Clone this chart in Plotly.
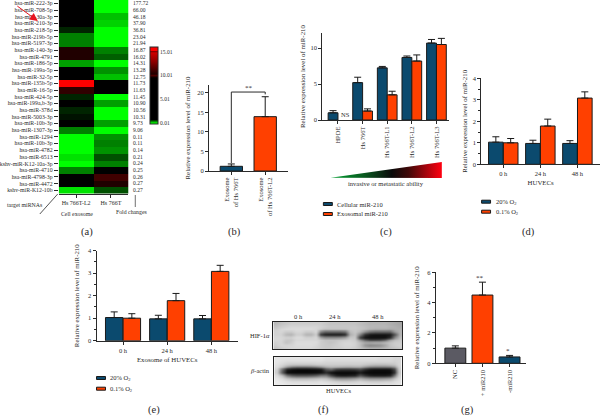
import plotly.graph_objects as go

W, H = 600, 416
SERIF = "Liberation Serif"
INK = "#2a2a2a"
BLUE = "#0b4a6e"
ORANGE = "#ff4000"
GREY = "#5b5a63"

# (a) heat map
mirnas = ["hsa-miR-222-3p", "hsa-miR-708-5p", "hsa-miR-30a-3p", "hsa-miR-210-3p", "hsa-miR-218-5p",
          "hsa-miR-219b-5p", "hsa-miR-5197-3p", "hsa-miR-140-3p", "hsa-miR-4791", "hsa-miR-186-5p",
          "hsa-miR-199a-5p", "hsa-miR-32-5p", "hsa-miR-135b-5p", "hsa-miR-16-5p", "hsa-miR-424-5p",
          "hsa-miR-199a,b-3p", "hsa-miR-378d", "hsa-miR-5003-3p", "hsa-miR-10b-3p", "hsa-miR-1307-3p",
          "hsa-miR-1294", "hsa-miR-10b-3p", "hsa-miR-4782", "hsa-miR-6513", "kshv-miR-K12-10a-3p",
          "hsa-miR-4710", "hsa-miR-4798-3p", "hsa-miR-4472", "kshv-miR-K12-10b"]
fold_changes = ["177.72", "66.00", "46.18", "37.90", "36.81", "23.04", "21.94", "16.87", "16.02", "14.31",
                "13.28", "12.75", "11.73", "11.63", "11.45", "10.90", "10.56", "10.31", "9.73", "9.06",
                "0.11", "0.11", "0.14", "0.21", "0.24", "0.25", "0.26", "0.27", "0.27"]
heat_l2 = [3, 3, 9.0, 3, 0.6, 0.35, 0.35, 9.7, 9.7, 0.26, 3, 3, 15.8, 10.2, 0.6, 3, 0.6, 0.65, 3, 0.35,
           0, 0, 0, 0.08, 0, 0.35, 3, 3, 0.08]
heat_parent = [0, 0, 0.17, 0.12, 0, 0, 0, 0.35, 0.44, 0, 0.3, 0.17, 3, 3, 0, 0.26, 0, 0, 0.26, 0,
               0.3, 0.35, 0.3, 0.48, 0.35, 3, 10.1, 9.7, 0.48]
heat_columns = ["Hs 766T-L2", "Hs 766T"]
heat_stops = [(-0.2, "#00ff00"), (0, "#00ff00"), (0.7, "#000000"), (9.5, "#000000"), (10, "#500000"),
              (10.3, "#200000"), (13, "#900000"), (14.8, "#d00000"), (15, "#600000"), (15.2, "#ff0000"),
              (16, "#ff0000")]

# (b)
b_labels = ["Exosome<br>of Hs 766T", "Exosome<br>of Hs 766T-L2"]
b_values = [1.2, 13.9]
b_tops = [1.8, 19.0]

# (c)
c_labels = ["HPDE", "Hs 766T", "Hs 766T-L1", "Hs 766T-L2", "Hs 766T-L3"]
c_cell = [1.0, 5.2, 7.25, 8.7, 10.7]
c_cell_tops = [1.3, 5.95, 7.45, 8.9, 11.2]
c_exo = [None, 1.25, 3.5, 8.2, 10.5]
c_exo_tops = [None, 1.55, 4.0, 9.05, 11.35]

# (d)
time_labels = ["0 h", "24 h", "48 h"]
d_normoxia = [1.03, 0.97, 0.97]
d_normoxia_tops = [1.28, 1.12, 1.10]
d_hypoxia = [1.0, 1.78, 3.08]
d_hypoxia_tops = [1.2, 2.1, 3.37]

# (e)
e_normoxia = [1.03, 0.97, 0.97]
e_normoxia_tops = [1.28, 1.13, 1.12]
e_hypoxia = [1.0, 1.78, 3.08]
e_hypoxia_tops = [1.2, 2.1, 3.35]

# (g)
g_labels = ["NC", "+ miR210", "-miR210"]
g_values = [1.0, 4.5, 0.42]
g_tops = [1.15, 5.35, 0.52]

# (f) blots, grey levels
hif_blot = [
    [185,195,200,205,205,205,205,205,205,205,200,195,195,195,195,195,195,190,185,180,180,180,180,175,170,165],
    [195,205,210,215,215,215,215,215,215,210,205,200,200,200,200,200,200,195,190,185,185,185,185,180,175,170],
    [205,215,220,220,220,220,220,220,215,205,195,195,195,195,195,200,200,195,190,180,175,175,175,170,175,175],
    [210,215,205,205,215,215,205,205,215,140,110,110,110,110,120,190,200,185,150,120,110,110,110,110,160,180],
    [210,210,185,180,205,205,180,180,205,60,30,25,25,25,40,175,195,130,50,25,20,20,20,25,90,180],
    [215,215,210,210,220,220,210,210,215,165,140,140,140,145,160,200,200,60,20,15,15,15,15,40,140,190],
    [215,215,200,200,215,215,215,215,215,205,195,195,195,200,205,210,205,150,100,70,70,75,100,160,190,200],
    [210,215,195,205,220,220,220,220,220,205,200,195,200,210,215,215,210,190,170,170,175,175,185,195,205,205],
    [205,215,215,215,220,220,220,220,215,205,200,200,205,210,215,215,210,190,150,135,140,145,165,195,205,210],
    [195,205,210,215,215,215,215,215,210,205,200,200,205,205,210,210,205,195,185,180,180,180,185,190,195,200],
]
actin_blot = [
    [230,230,230,230,230,230,230,230,230,230,225,225,225,225,225,225,225,225,225,225,225,220,220,220,215,215],
    [230,225,220,220,220,220,220,220,220,220,215,215,215,215,215,215,215,215,215,215,215,215,215,215,210,215],
    [225,215,205,200,200,200,200,200,205,205,205,205,205,205,205,205,205,205,200,195,190,190,190,195,200,215],
    [220,195,150,120,110,110,110,115,125,145,170,180,175,170,165,165,170,170,145,125,120,120,120,125,150,210],
    [210,110,30,15,10,10,10,12,15,20,80,100,60,50,50,50,55,70,40,20,15,15,15,20,70,205],
    [205,90,12,8,8,8,8,8,10,15,40,15,8,8,8,8,10,25,10,8,8,8,8,10,50,200],
    [220,190,120,90,80,80,80,85,95,120,120,70,35,25,25,30,35,80,50,30,25,25,25,35,120,210],
    [230,220,200,190,185,185,185,190,195,200,195,175,150,145,145,150,160,175,160,150,150,150,155,165,195,220],
    [235,230,225,220,220,220,220,220,220,225,220,215,210,205,205,205,210,215,210,205,205,205,210,210,220,225],
    [235,235,230,230,230,230,230,230,230,230,230,225,225,225,225,225,225,225,225,225,225,225,225,225,225,230],
]


def dom_x(a, b):
    return [a / W, b / W]


def dom_y(top, bottom):
    return [1 - bottom / H, 1 - top / H]


fig = go.Figure()
annotations = []
shapes = []


def text(x, y, s, size=6.5, anchor="center", color=INK, angle=0):
    annotations.append(dict(x=x / W, y=1 - y / H, xref="paper", yref="paper", text=s, showarrow=False,
                            xanchor=anchor, yanchor="middle", textangle=angle,
                            font=dict(family=SERIF, size=size, color=color)))


def add_bar(ax, xs, ys, tops, color, name, width):
    plus = [None if t is None else t - v for t, v in zip(tops, ys)]
    minus = [0 if v is not None else None for v in ys]
    fig.add_trace(go.Bar(x=xs, y=ys, name=name, xaxis="x" + ax, yaxis="y" + ax, width=width,
                         marker=dict(color=color, line=dict(color="#1a1a1a", width=1)),
                         error_y=dict(type="data", symmetric=False, array=plus, arrayminus=minus,
                                      color="#1a1a1a", thickness=1, width=3.5)))


def style_axes(ax, xd, yd, xr, yr, tickvals, xtick, title, xangle=0, dtick_minor=None, standoff=2, xtitle=None, xsize=6.5):
    xa = dict(domain=xd, range=xr, anchor="y" + ax, tickmode="array", tickvals=list(range(len(xtick))),
              ticktext=xtick, tickangle=xangle, ticks="outside", ticklen=3, tickwidth=1, tickcolor=INK,
              showline=True, linecolor=INK, linewidth=1, showgrid=False, zeroline=False,
              tickfont=dict(family=SERIF, size=xsize, color=INK), automargin=False)
    if xtitle:
        xa["title"] = dict(text=xtitle, font=dict(family=SERIF, size=6.8, color=INK), standoff=4)
    ya = dict(domain=yd, range=yr, anchor="x" + ax, tickmode="array", tickvals=tickvals,
              ticks="outside", ticklen=3, tickwidth=1, tickcolor=INK, showline=True, linecolor=INK, linewidth=1,
              showgrid=False, zeroline=False, tickfont=dict(family=SERIF, size=6.5, color=INK), automargin=False,
              title=dict(text=title, font=dict(family=SERIF, size=6.9, color=INK), standoff=standoff))
    if dtick_minor:
        ya["minor"] = dict(dtick=dtick_minor, ticks="outside", ticklen=2, tickwidth=1, tickcolor=INK, showgrid=False)
    fig.update_layout({"xaxis" + ax: xa, "yaxis" + ax: ya})


def legend_entry(x, y, color, label):
    shapes.append(dict(type="rect", xref="paper", yref="paper", x0=x / W, x1=(x + 9) / W, y0=1 - (y + 1.5) / H,
                       y1=1 - (y - 1.5) / H, fillcolor=color, line=dict(color="#1a1a1a", width=1)))
    text(x + 12, y, label, size=6.5, anchor="left")


TITLE = "Relative expression level of miR-210"

# ---- (a)
lo, hi = -0.2, 16
colorscale = [[(z - lo) / (hi - lo), c] for z, c in heat_stops]
fig.add_trace(go.Heatmap(z=[[a, b] for a, b in zip(heat_l2, heat_parent)], x=[0, 1], y=list(range(len(mirnas))),
                         xaxis="x", yaxis="y", zmin=lo, zmax=hi, colorscale=colorscale, hoverinfo="skip",
                         colorbar=dict(x=148 / W, xanchor="left", y=1 - 85.5 / H, yanchor="middle",
                                       lenmode="pixels", len=77, thicknessmode="pixels", thickness=8, xpad=0, ypad=0,
                                       outlinewidth=1, outlinecolor=INK, tickmode="array",
                                       tickvals=[0.01, 5.01, 10.01, 15.01], ticktext=["0.01", "5.01", "10.01", "15.01"],
                                       ticks="", tickfont=dict(family=SERIF, size=5.5, color=INK))))
fig.update_layout(
    xaxis=dict(domain=dom_x(56, 126), range=[-0.5, 1.5], tickmode="array", tickvals=[0, 1], ticktext=heat_columns,
               ticks="outside", ticklen=3, tickcolor=INK, showgrid=False, zeroline=False, showline=True,
               linecolor=INK, linewidth=1, anchor="y", tickfont=dict(family=SERIF, size=6, color=INK)),
    yaxis=dict(domain=dom_y(0, 193.5), range=[len(mirnas) - 0.5, -0.5], tickmode="array",
               tickvals=list(range(len(mirnas))), ticktext=mirnas, ticks="outside", ticklen=4, tickcolor=INK,
               showgrid=False, zeroline=False, anchor="x", tickfont=dict(family=SERIF, size=5.8, color=INK)),
)
for i, fc in enumerate(fold_changes):
    text(128.5, (i + 0.5) * 193.5 / len(fold_changes), fc, size=5.5, anchor="left")
text(22, 205, "target miRNAs", size=5.8)
text(56, 214, "Cell exosome", size=5.8, anchor="left")
text(129, 212, "Fold changes", size=5.8)
text(84, 232, "(a)", size=10.5)
shapes.append(dict(type="line", xref="paper", yref="paper", x0=55 / W, x1=37 / W, y0=1 - 194 / H, y1=1 - 214 / H,
                   line=dict(color=INK, width=0.8)))
shapes.append(dict(type="line", xref="paper", yref="paper", x0=133 / W, x1=133 / W, y0=1 - 195 / H, y1=1 - 207 / H,
                   line=dict(color="#888888", width=1.2)))
annotations.append(dict(x=35 / W, y=1 - 21 / H, xref="paper", yref="paper", ax=-22, ay=-16, axref="pixel",
                        ayref="pixel", text="", showarrow=True, arrowcolor="#e8141e", arrowhead=2, arrowsize=1.6,
                        arrowwidth=1))

# ---- (b)
style_axes("2", dom_x(207, 286), dom_y(85, 171), [-0.66, 1.66], [0, 22], [0, 5, 10, 15, 20], b_labels, TITLE, xangle=-90,
           standoff=5)
for i in range(2):
    add_bar("2", [i], [b_values[i]], [b_tops[i]], [BLUE, ORANGE][i], b_labels[i].replace("<br>", " "), 0.66)
fig.add_trace(go.Scatter(x=[0, 0, 1, 1], y=[2.0, 20.2, 20.2, 19.6], mode="lines", xaxis="x2", yaxis="y2",
                         line=dict(color=INK, width=1), hoverinfo="skip"))
text(247, 88, "**", size=7)
text(233, 232, "(b)", size=10.5)

# ---- (c)
style_axes("3", dom_x(321, 448), dom_y(33, 120), [-0.633, 4.5], [0, 12.1], [0, 5, 10], c_labels, TITLE, xangle=-90,
           standoff=3.5)
add_bar("3", list(range(5)), c_cell, c_cell_tops, BLUE, "Cellular miR-210", 0.4)
add_bar("3", list(range(5)), c_exo, c_exo_tops, ORANGE, "Exosomal miR-210", 0.4)
text(344, 114.5, "NS", size=6.5)
fig.add_trace(go.Scatter(x=[329.3, 441, 441, 329.3], y=[177.7, 162, 178, 177.7], mode="lines", fill="toself",
                         line=dict(width=0), xaxis="x9", yaxis="y9", hoverinfo="skip",
                         fillgradient=dict(type="horizontal",
                                           colorscale=[[0, "#00a030"], [0.3, "#0a5a20"], [0.55, "#0a0a0a"],
                                                       [0.7, "#400808"], [1, "#ff0010"]])))
fig.update_layout(
    xaxis9=dict(domain=[0, 1], range=[0, W], visible=False, anchor="y9", fixedrange=True),
    yaxis9=dict(domain=[0, 1], range=[H, 0], visible=False, anchor="x9", fixedrange=True),
)
text(385, 183, "invasive or metastatic ability", size=6.5)
legend_entry(322, 204, BLUE, "Cellular miR-210")
legend_entry(322, 214, ORANGE, "Exosomal miR-210")
text(385, 232, "(c)", size=10.5)

# ---- (d)
style_axes("4", dom_x(480.7, 600), dom_y(78.3, 164.3), [-0.593, 2.61], [0, 4], [0, 1, 2, 3, 4], time_labels, TITLE,
           dtick_minor=0.5, xtitle="HUVECs", standoff=4)
add_bar("4", [0, 1, 2], d_normoxia, d_normoxia_tops, BLUE, "20% O2", 0.395)
add_bar("4", [0, 1, 2], d_hypoxia, d_hypoxia_tops, ORANGE, "0.1% O2", 0.395)
legend_entry(481, 201.7, BLUE, "20% O<sub>2</sub>")
legend_entry(481, 211.7, ORANGE, "0.1% O<sub>2</sub>")
text(528, 232, "(d)", size=10.5)

# ---- (e)
style_axes("5", dom_x(94, 236), dom_y(250.7, 340.7), [-0.6, 2.6], [0, 4], [0, 1, 2, 3, 4], time_labels, TITLE,
           dtick_minor=0.5, xtitle="Exosome of HUVECs", standoff=7)
add_bar("5", [0, 1, 2], e_normoxia, e_normoxia_tops, BLUE, "20% O2", 0.395)
add_bar("5", [0, 1, 2], e_hypoxia, e_hypoxia_tops, ORANGE, "0.1% O2", 0.395)
legend_entry(94, 378, BLUE, "20% O<sub>2</sub>")
legend_entry(94, 388.7, ORANGE, "0.1% O<sub>2</sub>")
text(152, 410, "(e)", size=10.5)

# ---- (f)
for ax, mat, xd, yd in [("6", hif_blot, dom_x(271.7, 401), dom_y(321.7, 349.3)),
                        ("7", actin_blot, dom_x(272.7, 400.7), dom_y(356.7, 385.3))]:
    fig.add_trace(go.Heatmap(z=mat, xaxis="x" + ax, yaxis="y" + ax, zmin=0, zmax=255, zsmooth="best", showscale=False,
                             colorscale=[[0, "#000000"], [1, "#ffffff"]], hoverinfo="skip"))
    fig.update_layout({
        "xaxis" + ax: dict(domain=xd, anchor="y" + ax, showticklabels=False, ticks="", showgrid=False, zeroline=False,
                           showline=True, mirror=True, linecolor="#222222", linewidth=1, range=[-0.5, 25.5]),
        "yaxis" + ax: dict(domain=yd, anchor="x" + ax, showticklabels=False, ticks="", showgrid=False, zeroline=False,
                           showline=True, mirror=True, linecolor="#222222", linewidth=1, range=[9.5, -0.5]),
    })
text(296.7, 316.7, "0 h")
text(334, 316.7, "24 h")
text(376.7, 316.7, "48 h")
text(270, 335, "HIF-1<i>α</i>", anchor="right")
text(270, 370, "<i>β</i>-actin", anchor="right")
text(336.7, 390.7, "HUVECs")
text(322, 410, "(f)", size=10.5)

# ---- (g)
style_axes("8", dom_x(435, 526), dom_y(272.3, 363.3), [-0.72, 2.62], [0, 6], [0, 2, 4, 6], g_labels, TITLE, xangle=-90,
           dtick_minor=1, standoff=6)
for i in range(3):
    add_bar("8", [i], [g_values[i]], [g_tops[i]], [GREY, ORANGE, BLUE][i], g_labels[i], 0.77)
text(479, 277.7, "**", size=7)
text(507.7, 350.7, "*", size=7)
text(467, 410, "(g)", size=10.5)

fig.update_layout(width=W, height=H, margin=dict(l=0, r=0, t=0, b=0), paper_bgcolor="white", plot_bgcolor="rgba(0,0,0,0)",
                  showlegend=False, barmode="group", bargap=0.2, bargroupgap=0, annotations=annotations, shapes=shapes,
                  font=dict(family=SERIF, size=6.5, color=INK))
fig.write_html("out.html", config={"displayModeBar": False},
               post_script="document.body.style.margin='0';document.documentElement.style.overflow='hidden';")
